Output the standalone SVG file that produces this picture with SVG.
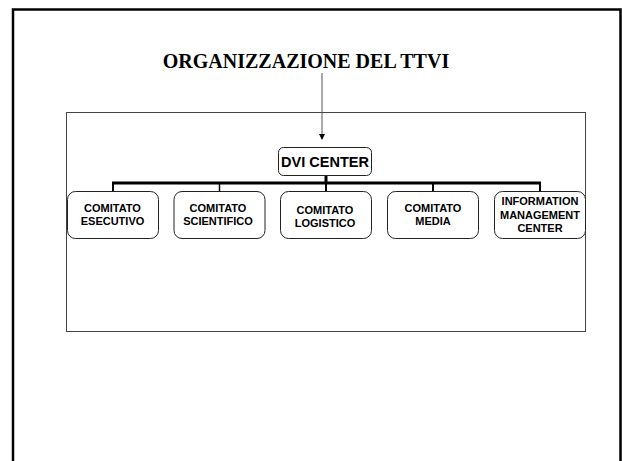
<svg xmlns="http://www.w3.org/2000/svg" width="622" height="461" viewBox="0 0 622 461">
<style>
.node rect{fill:#fff;stroke:#222;stroke-width:1}
.lbl{font-family:"Liberation Sans",Arial,sans-serif;font-weight:bold;font-size:11px;text-anchor:middle;fill:#000}
.conn{stroke:#000;fill:none}
</style>
<defs>
<marker id="ah" markerWidth="6" markerHeight="6" refX="5" refY="3" orient="auto" markerUnits="userSpaceOnUse">
<path d="M0,0 L6,3 L0,6 Z" fill="#000"/>
</marker>
</defs>
<rect x="0" y="0" width="622" height="461" fill="#fff"/>
<path d="M13,470 V9.5 H620.5 V470" fill="none" stroke="#000" stroke-width="2.5"/>
<text x="306" y="68" font-family="'Liberation Serif','Times New Roman',serif" font-weight="bold" font-size="20" text-anchor="middle">ORGANIZZAZIONE DEL TTVI</text>
<rect x="66.5" y="112.5" width="519" height="219" fill="none" stroke="#444" stroke-width="1"/>
<g id="connectors">
<line x1="322" y1="73" x2="322" y2="139" stroke="#555" stroke-width="1" marker-end="url(#ah)"/>
<line class="conn" x1="326" y1="175" x2="326" y2="183" stroke-width="3"/>
<line class="conn" x1="112" y1="183" x2="541" y2="183" stroke-width="3"/>
<line class="conn" x1="113" y1="183" x2="113" y2="191" stroke-width="2"/>
<line class="conn" x1="219.5" y1="183" x2="219.5" y2="191" stroke-width="1.5"/>
<line class="conn" x1="326" y1="183" x2="326" y2="191" stroke-width="2"/>
<line class="conn" x1="433" y1="183" x2="433" y2="191" stroke-width="2"/>
<line class="conn" x1="540" y1="183" x2="540" y2="191" stroke-width="2"/>
</g>
<g id="dvi" class="node">
<rect x="278.5" y="147.5" width="93" height="28" rx="5"/>
<text x="325" y="167" font-family="'Liberation Sans',Arial,sans-serif" font-weight="bold" font-size="14.5" text-anchor="middle">DVI CENTER</text>
</g>
<g id="esecutivo" class="node">
<rect x="67.5" y="191.5" width="91" height="47" rx="8"/>
<text class="lbl" x="112.5" y="212">COMITATO</text>
<text class="lbl" x="112.5" y="225">ESECUTIVO</text>
</g>
<g id="scientifico" class="node">
<rect x="174" y="191.5" width="91" height="47" rx="8"/>
<text class="lbl" x="218" y="212">COMITATO</text>
<text class="lbl" x="218" y="225">SCIENTIFICO</text>
</g>
<g id="logistico" class="node">
<rect x="280.5" y="191.5" width="91" height="47" rx="8"/>
<text class="lbl" x="325" y="213.5">COMITATO</text>
<text class="lbl" x="325" y="227">LOGISTICO</text>
</g>
<g id="media" class="node">
<rect x="387.5" y="191.5" width="91" height="47" rx="8"/>
<text class="lbl" x="433" y="212">COMITATO</text>
<text class="lbl" x="433" y="225">MEDIA</text>
</g>
<g id="imc" class="node">
<rect x="494.5" y="191.5" width="91" height="47" rx="8"/>
<text class="lbl" x="540" y="205">INFORMATION</text>
<text class="lbl" x="540" y="219">MANAGEMENT</text>
<text class="lbl" x="540" y="232">CENTER</text>
</g>
</svg>
